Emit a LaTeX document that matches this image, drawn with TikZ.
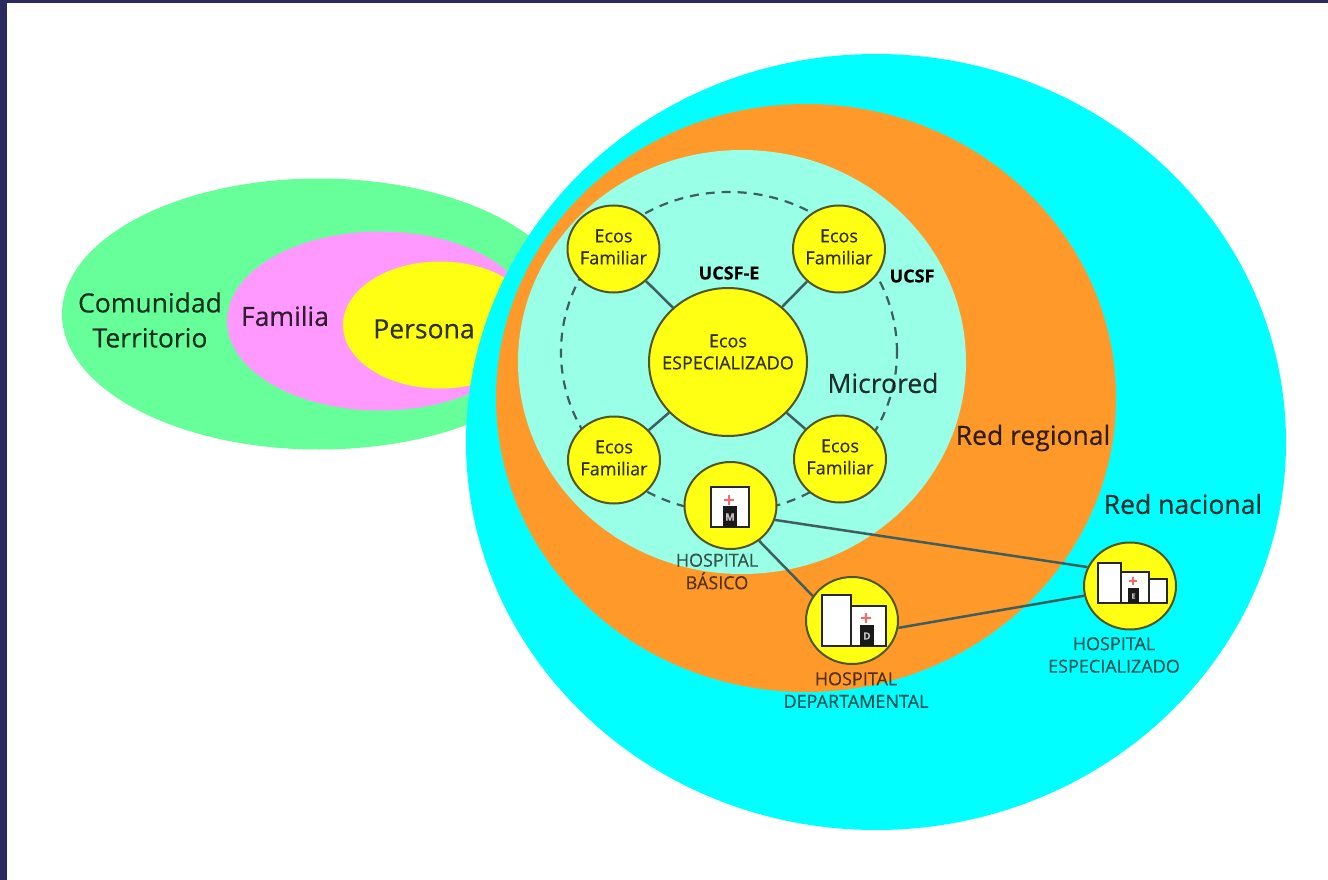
\documentclass[tikz,border=0pt]{standalone}
\usepackage{fontspec}
\setmainfont[FakeBold=0.3]{Open Sans}
\usetikzlibrary{shapes.geometric}
\definecolor{navy}{HTML}{2A2A5E}
\definecolor{verde}{HTML}{66FF99}
\definecolor{rosa}{HTML}{FF99FF}
\definecolor{amarillo}{HTML}{FFFF14}
\definecolor{cian}{HTML}{00FFFF}
\definecolor{naranja}{HTML}{FF9A2A}
\definecolor{aqua}{HTML}{99FFE6}
\definecolor{borde}{HTML}{4F5526}
\definecolor{linea}{HTML}{3F5F5F}
\tikzset{
  region/.style={ellipse,inner sep=0pt,fill=#1},
  ecos/.style={ellipse,draw=borde,line width=2pt,fill=amarillo,inner sep=0pt,
    minimum width=92pt,minimum height=87pt},
  ecosfam/.style={ecos,label={[align=center,yshift=2pt,text opacity=.8,
    font=\fontsize{18}{22}\selectfont]center:{Ecos\\Familiar}}},
  big/.style={font=\fontsize{26.5}{35}\selectfont,align=center,text=black,text opacity=.8},
  tag/.style={font=\fontsize{18}{22.5}\selectfont,align=center,text=black,text opacity=.65},
  ucsf/.style={font=\fontsize{18}{18}\selectfont\bfseries},
  conn/.style={draw=linea,line width=2.5pt},
  bldg/.style={draw=black!85,line width=2pt,fill=white},
  door/.style={fill=black!90},
  cruz/.style={draw=red!60!white,line width=2.5pt},
  letra/.style={font=\fontsize{10}{10}\selectfont\bfseries,text=white!75!black,inner sep=0pt}
}
\begin{document}
\begin{tikzpicture}[x=1pt,y=-1pt]
\useasboundingbox (0,0) rectangle (1328,880);
\fill[navy] (0,0) rectangle (1328,880);
\fill[white] (7,3) rectangle (1328,880);
% comunidad
\node[region=verde,minimum width=514pt,minimum height=271pt] (comunidad) at (319,314) {};
\node[region=rosa,minimum width=306pt,minimum height=179pt] (familia) at (380,321) {};
\node[region=amarillo,minimum width=194pt,minimum height=127pt] (persona) at (440,325) {};
\node[big] (tcomunidad) at (150,320) {Comunidad\\Territorio};
\node[big] (tfamilia) at (285,316) {Familia};
\node[big] (tpersona) at (424,329) {Persona};
% redes
\node[region=cian,minimum width=820pt,minimum height=776pt] (nacional) at (876,442) {};
\node[region=naranja,minimum width=620pt,minimum height=588pt] (regional) at (806,398) {};
\node[region=aqua,minimum width=448pt,minimum height=424pt] (microred) at (742,362) {};
\node[draw=linea,dashed,dash pattern=on 9pt off 7pt,line width=2.2pt,ellipse,inner sep=0pt,
  minimum width=336pt,minimum height=320pt] (ucsfring) at (729,352) {};
% ecos
\node[ecosfam] (ef1) at (613.5,249) {};
\node[ecosfam] (ef2) at (839,249) {};
\node[ecosfam] (ef3) at (614,460) {};
\node[ecosfam] (ef4) at (840,459) {};
\node[ecos,minimum width=158pt,minimum height=148pt] (ee) at (728,362) {};
\node[ecos] (hb) at (730.5,505.5) {};
\node[ecos] (hd) at (852,620.5) {};
\node[ecos] (he) at (1130,586) {};
\node[align=center,text opacity=.8,font=\fontsize{18}{22}\selectfont] (tee) at (728,352) {Ecos\\ESPECIALIZADO};
\draw[conn] (ef1) -- (ee);
\draw[conn] (ef2) -- (ee);
\draw[conn] (ef3) -- (ee);
\draw[conn] (ef4) -- (ee);
\draw[conn] (hb.-18) -- (he.156);
\draw[conn] (hb.-51) -- (hd.148);
\draw[conn] (hd.-9) -- (he.192);
% hospital basico
\draw[bldg] (711,487) rectangle (749,527);
\fill[door] (723,506) rectangle (737,527);
\draw[cruz] (724,500) -- (734,500) (729,495) -- (729,505);
\node[letra] (lm) at (730,517) {M};
% hospital departamental
\draw[bldg] (822,595) rectangle (851,646);
\draw[bldg] (851,606) rectangle (886,646);
\fill[door] (860,625) rectangle (874,646);
\draw[cruz] (861,618) -- (871,618) (866,613) -- (866,623);
\node[letra] (ld) at (867,636) {D};
% hospital especializado
\draw[bldg] (1098,563) rectangle (1121,603);
\draw[bldg] (1121,572) rectangle (1149,603);
\draw[bldg] (1149,579) rectangle (1167,603);
\fill[door] (1128,588) rectangle (1139,603);
\draw[cruz,line width=1.8pt] (1129,581) -- (1137,581) (1133,577) -- (1133,585);
\node[letra,font=\fontsize{7}{7}\selectfont\bfseries] (le) at (1133.5,596) {E};
% textos
\node[ucsf] (tucsfe) at (729,273) {UCSF-E};
\node[ucsf] (tucsf) at (912,276) {UCSF};
\node[big] (tmicrored) at (883,383) {Microred};
\node[big] (tregional) at (1033,438) {Red regional};
\node[big] (tnacional) at (1183,504) {Red nacional};
\node[tag] (thb) at (717,571.5) {HOSPITAL\\BÁSICO};
\node[tag] (thd) at (856,690) {HOSPITAL\\DEPARTAMENTAL};
\node[tag] (the) at (1114,655) {HOSPITAL\\ESPECIALIZADO};
\end{tikzpicture}
\end{document}
